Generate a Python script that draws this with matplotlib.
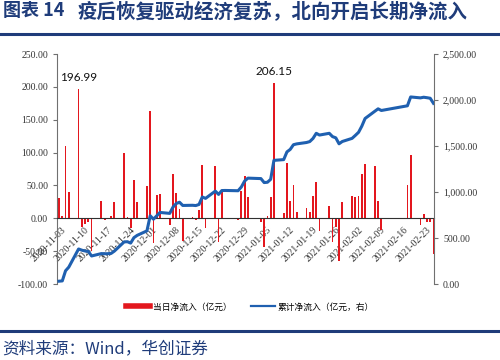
import matplotlib.pyplot as plt
import matplotlib.dates as mdates
from matplotlib.lines import Line2D
from matplotlib.ticker import FuncFormatter, MultipleLocator
from matplotlib.transforms import ScaledTranslation
import numpy as np
import pandas as pd

plt.rcParams['font.family'] = ['Noto Sans CJK SC', 'DejaVu Sans']

# daily northbound net inflow (100m CNY)
dates = [
    '2020-11-03', '2020-11-04', '2020-11-05', '2020-11-06',
    '2020-11-09', '2020-11-10', '2020-11-11', '2020-11-12', '2020-11-13',
    '2020-11-16', '2020-11-17', '2020-11-18', '2020-11-19', '2020-11-20',
    '2020-11-23', '2020-11-24', '2020-11-25', '2020-11-26', '2020-11-27',
    '2020-11-30', '2020-12-01', '2020-12-02', '2020-12-03', '2020-12-04',
    '2020-12-07', '2020-12-08', '2020-12-09', '2020-12-10', '2020-12-11',
    '2020-12-14', '2020-12-15', '2020-12-16', '2020-12-17', '2020-12-18',
    '2020-12-21', '2020-12-22', '2020-12-23', '2020-12-24',
    '2020-12-28', '2020-12-29', '2020-12-30', '2020-12-31',
    '2021-01-04', '2021-01-05', '2021-01-06', '2021-01-07', '2021-01-08',
    '2021-01-11', '2021-01-12', '2021-01-13', '2021-01-14', '2021-01-15',
    '2021-01-18', '2021-01-19', '2021-01-20', '2021-01-21', '2021-01-22',
    '2021-01-25', '2021-01-26', '2021-01-27', '2021-01-28', '2021-01-29',
    '2021-02-01', '2021-02-02', '2021-02-03', '2021-02-04', '2021-02-05',
    '2021-02-08', '2021-02-09', '2021-02-10',
    '2021-02-18', '2021-02-19',
    '2021-02-22', '2021-02-23', '2021-02-24', '2021-02-25', '2021-02-26',
]
daily = [
    31, 3, 110, 40,
    196.99, -13, -9, -5, -49,
    26, -2, 1, 3, 25,
    100, 2, -15, 59, 25,
    49, 164, -37, 36, 37,
    -10, 68, 39, 14, -35,
    2, -3, 12, 81, -15,
    79, -36, 42, 1,
    -3, 41, 64, 32,
    -5, -43, 3, 32, 206.15,
    8, 84, 27, 51, 9,
    15, 10, 34, 56, -19,
    19, -36, -13, -65, 25,
    34, 32, 34, 67, 83,
    79, 26, -18,
    51, 96,
    -10, 7, -5, -6, -55,
]
tick_dates = pd.date_range('2020-11-03', '2021-02-23', freq='7D')
labelled = {'2020-11-09': '196.99', '2021-01-08': '206.15'}

x = pd.to_datetime(dates)
cum = np.cumsum(daily)

navy = '#1F3C7A'
red = '#E3171E'
blue = '#1F60B0'
serif = 'Liberation Serif'

fig = plt.figure(figsize=(5, 3.6), dpi=100)
ax = fig.add_axes([0.114, 0.211, 0.754, 0.639])
ax2 = ax.twinx()

# bars on left axis
ax.bar(x, daily, width=0.55, color=red, zorder=2)
ax.set_ylim(-100, 250)
ax.yaxis.set_major_locator(MultipleLocator(50))
ax.yaxis.set_major_formatter(FuncFormatter(lambda v, p: f'{v:.2f}'))
ax.set_xlim(pd.Timestamp('2020-11-03') - pd.Timedelta(hours=15),
            pd.Timestamp('2021-02-26') + pd.Timedelta(hours=4))

for d, txt in labelled.items():
    v = daily[dates.index(d)]
    ax.annotate(txt, xy=(pd.Timestamp(d), v), xytext=(0, 4),
                textcoords='offset points', ha='center', va='bottom',
                fontsize=8.5, family='Lato', color='#111111')

# cumulative line on right axis
ax2.plot(x, cum, color=blue, lw=2.2, solid_joinstyle='round', zorder=3)
ax2.set_ylim(0, 2500)
ax2.yaxis.set_major_locator(MultipleLocator(500))
ax2.yaxis.set_major_formatter(FuncFormatter(lambda v, p: f'{v:,.2f}'))

# spines
ax.spines['top'].set_visible(False)
ax.spines['right'].set_visible(False)
ax.spines['bottom'].set_position(('data', 0))
ax.spines['bottom'].set_color('#303030')
ax.spines['left'].set_color('#707070')
for s in ['top', 'left', 'bottom']:
    ax2.spines[s].set_visible(False)
ax2.spines['right'].set_color('#707070')

ax.set_xticks(tick_dates)
ax.xaxis.set_major_formatter(mdates.DateFormatter('%Y-%m-%d'))
ax.tick_params(axis='x', length=0, pad=5, labelsize=7, labelcolor='#333333')
ax.tick_params(axis='y', length=3, width=0.8, color='#707070', labelsize=7, labelcolor='#333333')
ax2.tick_params(axis='y', length=3, width=0.8, color='#707070', labelsize=7, labelcolor='#333333')

shift = ScaledTranslation(2 / 72, 0, fig.dpi_scale_trans)
for lab in ax.get_xticklabels():
    lab.set_rotation(45)
    lab.set_ha('right')
    lab.set_va('top')
    lab.set_rotation_mode('anchor')
    lab.set_family(serif)
    lab.set_transform(lab.get_transform() + shift)
for lab in ax.get_yticklabels() + ax2.get_yticklabels():
    lab.set_family(serif)

# legend
handles = [Line2D([], [], color=red, lw=4),
           Line2D([], [], color=blue, lw=1.6)]
fig.legend(handles, ['当日净流入（亿元）', '累计净流入（亿元，右）'],
           loc='center', bbox_to_anchor=(0.5, 1 - 307 / 360), ncol=2,
           frameon=False, fontsize=6.3, handlelength=2.8,
           handletextpad=0.3, columnspacing=2.2)

# title, rules and source
fig.text(0.006, 1 - 11 / 360, '图表 14', fontsize=13, fontweight='bold',
         color=navy, va='center', ha='left')
fig.text(0.156, 1 - 11 / 360, '疫后恢复驱动经济复苏，北向开启长期净流入',
         fontsize=14, fontweight='bold', color=navy, va='center', ha='left')
fig.add_artist(Line2D([0, 1], [1 - 34 / 360] * 2, transform=fig.transFigure,
                      color=navy, lw=2.2))
fig.add_artist(Line2D([0, 1], [1 - 330.5 / 360] * 2, transform=fig.transFigure,
                      color=navy, lw=2.2))
fig.text(0.004, 1 - 349 / 360, '资料来源：Wind，华创证券', fontsize=12,
         color=navy, va='center', ha='left', style='italic')

fig.savefig('out.png', dpi=100)
